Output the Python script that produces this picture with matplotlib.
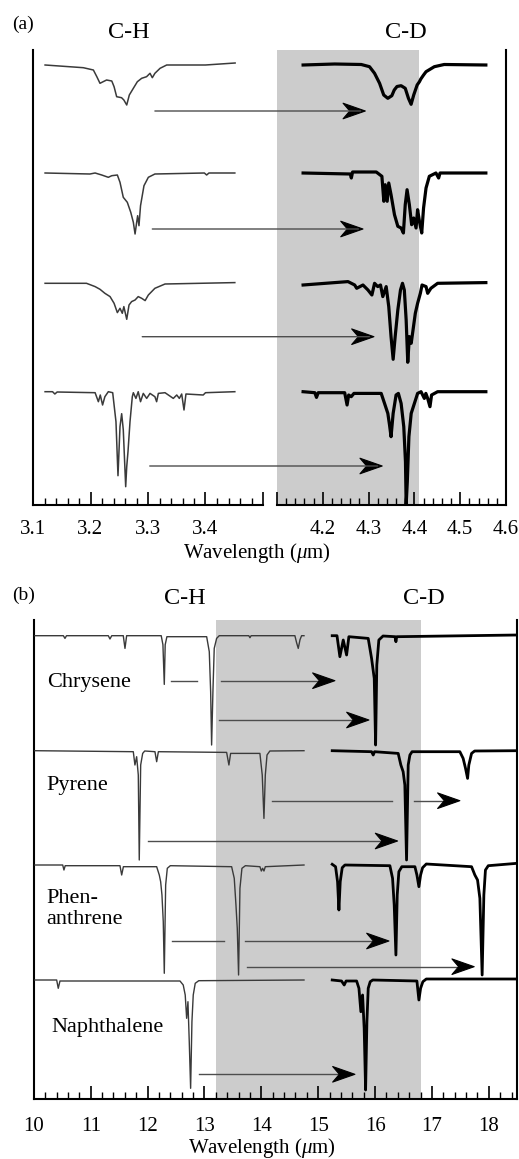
import matplotlib
matplotlib.use("Agg")
import numpy as np
import matplotlib.pyplot as plt
from matplotlib.patches import ConnectionPatch, ArrowStyle
from matplotlib.path import Path
from matplotlib.ticker import FixedLocator, FixedFormatter, MultipleLocator

plt.rcParams['font.family'] = ['Liberation Serif', 'DejaVu Serif']
plt.rcParams['mathtext.fontset'] = 'custom'
plt.rcParams['mathtext.rm'] = 'Liberation Serif'
plt.rcParams['mathtext.it'] = 'Liberation Serif:italic'

# ---------------- data: panel (a) (wavelength um, depth) ----------------
A_CH1 = [(3.121,0),(3.1875,0.027),(3.205,0.05),(3.211,0.117),(3.2165,0.183),(3.222,0.167),
         (3.228,0.15),(3.237,0.16),(3.241,0.217),(3.2455,0.317),(3.254,0.327),(3.258,0.35),
         (3.263,0.40),(3.2675,0.30),(3.2745,0.233),(3.2815,0.167),(3.289,0.133),(3.2975,0.117),
         (3.3035,0.083),(3.3075,0.127),(3.312,0.083),(3.321,0.033),(3.3325,0.0),(3.40,0.0),
         (3.4515,-0.02)]
A_CH2 = [(3.121,0),(3.199,0.01),(3.208,0),(3.2195,0.02),(3.231,0.043),(3.237,0.027),
         (3.2467,0.02),(3.2513,0.093),(3.257,0.243),(3.264,0.293),(3.27,0.393),(3.2745,0.493),
         (3.2775,0.61),(3.2803,0.493),(3.282,0.427),(3.2843,0.527),(3.287,0.327),(3.293,0.127),
         (3.3006,0.043),(3.312,0.01),(3.398,0.0),(3.402,0.02),(3.406,0.0),(3.451,0)]
A_CH3 = [(3.121,0),(3.193,0),(3.208,0.033),(3.2165,0.06),(3.225,0.10),(3.234,0.133),
         (3.241,0.20),(3.2467,0.293),(3.2513,0.25),(3.2553,0.30),(3.258,0.233),(3.263,0.36),
         (3.267,0.217),(3.2715,0.183),(3.2775,0.167),(3.283,0.133),(3.289,0.15),(3.295,0.173),
         (3.3006,0.117),(3.312,0.05),(3.3296,0.007),(3.451,-0.007)]
A_CH4 = [(3.121,0),(3.134,0),(3.138,0.023),(3.142,0.003),(3.208,0.01),(3.2137,0.10),
         (3.217,0.033),(3.221,0.133),(3.225,0.05),(3.231,0),(3.2386,0.01),(3.2443,0.3),
         (3.2478,0.84),(3.2513,0.35),(3.2542,0.22),(3.257,0.38),(3.2612,0.95),(3.263,0.75),
         (3.2652,0.6),(3.2687,0.3),(3.2727,0.05),(3.2745,0.01),(3.279,0.067),(3.283,0),
         (3.287,0.1),(3.2918,0.017),(3.2977,0.067),(3.3035,0.017),(3.312,0.05),(3.315,0.1),
         (3.318,0.017),(3.3296,0.01),(3.344,0.067),(3.35,0.033),(3.3545,0.067),(3.3586,0.023),
         (3.3626,0.183),(3.366,0.023),(3.396,0.033),(3.40,0.01),(3.451,0)]
A_CD1 = [(4.157,0),(4.226,-0.01),(4.284,-0.005),(4.302,0.017),(4.313,0.083),(4.324,0.183),
         (4.333,0.30),(4.342,0.333),(4.3507,0.307),(4.356,0.25),(4.362,0.215),(4.371,0.207),
         (4.38,0.233),(4.387,0.333),(4.3928,0.393),(4.3985,0.30),(4.406,0.20),(4.411,0.167),
         (4.414,0.14),(4.42,0.10),(4.4254,0.067),(4.4435,0.017),(4.465,-0.005),(4.556,0)]
A_CD2 = [(4.157,0),(4.26,0.01),(4.2623,0.05),(4.265,-0.01),(4.3167,-0.01),(4.329,0.033),
         (4.3333,0.283),(4.3363,0.117),(4.3406,0.283),(4.344,0.1),(4.349,0.217),(4.3565,0.417),
         (4.3638,0.533),(4.371,0.55),(4.376,0.60),(4.38,0.317),(4.384,0.167),(4.389,0.317),
         (4.394,0.517),(4.3985,0.45),(4.4036,0.55),(4.407,0.367),(4.411,0.483),(4.416,0.60),
         (4.42,0.35),(4.4254,0.15),(4.4326,0.033),(4.447,0),(4.4529,0.05),(4.456,0),(4.556,0)]
A_CD3 = [(4.157,0.017),(4.226,-0.007),(4.255,-0.017),(4.2696,0.017),(4.274,0.05),(4.2877,0.017),
         (4.2986,0.067),(4.3072,0.117),(4.313,0),(4.32,0.033),(4.326,0.017),(4.331,0.133),
         (4.3384,0.033),(4.344,0.233),(4.349,0.533),(4.3536,0.76),(4.358,0.533),(4.3638,0.267),
         (4.3696,0.067),(4.374,0),(4.378,0.067),(4.382,0.367),(4.3855,0.79),(4.389,0.533),
         (4.393,0.60),(4.397,0.467),(4.402,0.30),(4.407,0.20),(4.413,0.10),(4.4167,0.017),
         (4.4254,0.033),(4.429,0.10),(4.436,0.05),(4.4507,0),(4.556,-0.007)]
A_CD4 = [(4.157,0),(4.1826,0.01),(4.1862,0.057),(4.19,0.01),(4.2478,0.01),(4.253,0.133),
         (4.2565,0.033),(4.262,0.05),(4.268,0.017),(4.3275,0.017),(4.3348,0.117),(4.342,0.217),
         (4.3457,0.333),(4.349,0.45),(4.3536,0.217),(4.36,0.033),(4.365,0.017),(4.371,0.117),
         (4.3768,0.35),(4.3805,0.7),(4.382,1.13),(4.3845,0.9),(4.388,0.45),(4.393,0.217),
         (4.4,0.117),(4.407,0.017),(4.4145,0),(4.4217,0.067),(4.425,0.017),(4.429,0.067),
         (4.434,0.15),(4.4375,0.033),(4.4507,0),(4.556,0)]
A_OFFSETS = [4.40, 3.32, 2.217, 1.133]
A_CH = [A_CH1, A_CH2, A_CH3, A_CH4]
A_CD = [A_CD1, A_CD2, A_CD3, A_CD4]
# arrows (a): (start on C-H scale, end on C-D scale, y)
A_ARROWS = [(3.312, 4.2928, 3.94), (3.3075, 4.2877, 2.76), (3.29, 4.3116, 1.683), (3.303, 4.3297, 0.39)]
A_TICKS_L = [3.1, 3.2, 3.3, 3.4, 3.5]
A_LABELS_L = ['3.1', '3.2', '3.3', '3.4', '']
A_TICKS_R = [4.1, 4.2, 4.3, 4.4, 4.5, 4.6]
A_LABELS_R = ['', '4.2', '4.3', '4.4', '4.5', '4.6']
A_BAND = (4.1, 4.41)

# ---------------- data: panel (b) ----------------
B_CHRY_CH = [(10.02,0),(10.52,0),(10.548,0.027),(10.575,0),(11.31,0),(11.339,0.033),(11.37,0),
             (11.573,0),(11.603,0.127),(11.632,0),(12.24,0),(12.27,0.09),(12.294,0.487),(12.31,0.09),
             (12.34,0.01),(13.039,0.01),(13.085,0.16),(13.109,0.56),(13.126,1.093),(13.149,0.56),
             (13.172,0.127),(13.214,0.027),(13.26,0),(13.78,0),(13.8,0.02),(13.82,0),(14.59,0),
             (14.62,0.07),(14.649,0.127),(14.68,0.04),(14.708,0),(14.75,0)]
B_CHRY_CD = [(15.246,0),(15.33,0),(15.381,0.21),(15.44,0.043),(15.499,0.193),(15.539,0.01),
             (15.879,0.027),(15.938,0.227),(15.985,0.427),(16.009,1.093),(16.03,0.293),(16.066,0.043),
             (16.14,0.003),(16.35,0.01),(16.366,0.06),(16.38,0.01),(18.5,-0.007)]
B_PYR_CH = [(10.02,0),(11.749,0.01),(11.778,0.143),(11.808,0.06),(11.837,0.243),(11.854,1.093),
            (11.879,0.143),(11.914,0.027),(11.95,0.003),(12.13,0.01),(12.16,0.11),(12.19,0.01),
            (13.39,0.017),(13.43,0.143),(13.46,0.027),(13.975,0.027),(14.016,0.243),(14.046,0.677),
            (14.07,0.243),(14.1,0.043),(14.15,0.003),(14.75,0)]
B_PYR_CD = [(15.246,0),(15.938,0.01),(15.967,0.043),(15.99,0.01),(16.406,0.027),(16.453,0.143),
            (16.493,0.21),(16.523,0.343),(16.553,1.093),(16.582,0.143),(16.612,0.043),(16.65,0.01),
            (17.49,0.01),(17.548,0.077),(17.59,0.177),(17.626,0.277),(17.648,0.143),(17.696,0.027),
            (17.75,0.003),(18.5,0)]
B_PHE_CH = [(10.02,0),(10.508,0),(10.53,0.05),(10.552,0.007),(11.515,0.007),(11.545,0.1),
            (11.575,0.017),(11.81,0.017),(12.16,0.017),(12.206,0.1),(12.23,0.167),(12.253,0.3),
            (12.276,0.567),(12.294,1.083),(12.318,0.2),(12.347,0.033),(12.4,0.007),(13.478,0.017),
            (13.524,0.133),(13.554,0.4),(13.577,0.633),(13.6,1.1),(13.624,0.233),(13.659,0.033),
            (13.72,0.007),(13.975,0.017),(14.0,0.06),(14.023,0.033),(14.046,0.06),(14.07,0.017),
            (14.75,0)]
B_PHE_CD = [(15.246,-0.007),(15.305,0.017),(15.34,0.167),(15.364,0.45),(15.387,0.167),(15.422,0.027),
            (15.47,0),(16.26,0.007),(16.307,0.133),(16.336,0.4),(16.366,0.9),(16.389,0.3),(16.418,0.067),
            (16.47,0.017),(16.7,0.017),(16.735,0.1),(16.77,0.217),(16.8,0.1),(16.835,0.027),(16.9,-0.01),
            (17.696,0.017),(17.754,0.1),(17.801,0.15),(17.842,0.333),(17.882,1.1),(17.912,0.3),
            (17.94,0.05),(17.99,0.007),(18.5,-0.017)]
B_NAP_CH = [(10.02,0),(10.402,0),(10.43,0.083),(10.46,0.01),(12.57,0.01),(12.627,0.05),(12.662,0.15),
            (12.687,0.383),(12.71,0.217),(12.733,0.617),(12.757,1.083),(12.78,0.417),(12.803,0.15),
            (12.838,0.033),(12.9,0.007),(14.75,0)]
B_NAP_CD = [(15.246,0),(15.41,0.01),(15.457,0.05),(15.49,0.01),(15.675,0.01),(15.716,0.083),
            (15.75,0.317),(15.78,0.15),(15.808,0.483),(15.833,1.1),(15.856,0.417),(15.879,0.083),
            (15.914,0.017),(15.96,0),(16.735,0.01),(16.77,0.2),(16.8,0.083),(16.84,0.017),(16.9,-0.01),
            (18.5,-0.01)]
B_NAMES = ['Chrysene', 'Pyrene', 'Phen-\nanthrene', 'Naphthalene']
B_OFFSETS = [4.633, 3.483, 2.34, 1.19]
B_CH = [B_CHRY_CH, B_PYR_CH, B_PHE_CH, B_NAP_CH]
B_CD = [B_CHRY_CD, B_PYR_CD, B_PHE_CD, B_NAP_CD]
# arrows (b): (x start, x end, y, with head)
B_ARROWS = [(12.42, 12.968, 4.183, False), (13.285, 15.293, 4.183, True),
            (13.26, 15.891, 3.79, True),
            (14.18, 16.395, 2.983, False), (16.687, 17.49, 2.983, True),
            (12.013, 16.395, 2.58, True),
            (12.434, 13.437, 1.58, False), (13.712, 16.243, 1.58, True),
            (13.753, 17.742, 1.323, True),
            (12.909, 15.645, 0.247, True)]
B_TICKS = [10, 11, 12, 13, 14, 15, 16, 17, 18]
B_BAND = (13.21, 16.81)


# ---------------- concave ("stealth") arrow head ----------------
class StealthHead(ArrowStyle._Base):
    def __init__(self, head_length=1.6, head_width=0.5, notch=0.3):
        self.head_length, self.head_width, self.notch = head_length, head_width, notch
        super().__init__()

    def transmute(self, path, mutation_size, linewidth):
        (x0, y0), (x1, y1) = path.vertices[0], path.vertices[-1]
        d = np.hypot(x1 - x0, y1 - y0) or 1.0
        ux, uy = (x1 - x0) / d, (y1 - y0) / d
        px, py = -uy, ux
        L = self.head_length * mutation_size
        Wd = self.head_width * mutation_size
        bx, by = x1 - ux * L, y1 - uy * L
        nx, ny = x1 - ux * L * (1 - self.notch), y1 - uy * L * (1 - self.notch)
        verts = [(x1, y1), (bx + px * Wd, by + py * Wd), (nx, ny),
                 (bx - px * Wd, by - py * Wd), (x1, y1)]
        codes = [Path.MOVETO, Path.LINETO, Path.LINETO, Path.LINETO, Path.CLOSEPOLY]
        return Path(verts, codes), True


# ---------------- figure ----------------
W, H = 519, 1159
fig = plt.figure(figsize=(W / 100, H / 100), dpi=100)

def px_axes(x0, x1, ytop, ybot):
    return fig.add_axes([x0 / W, 1 - ybot / H, (x1 - x0) / W, (ybot - ytop) / H])

def ftext(x, y, s, **kw):
    fig.text(x / W, 1 - y / H, s, **kw)

BAND_COLOR = '#cccccc'
CH_COLOR = '#3a3a3a'
ARROW_COLOR = '#4d4d4d'
TICK_FS = 15

def style_ticks(ax, minor_step, pad):
    ax.xaxis.set_minor_locator(MultipleLocator(minor_step))
    ax.tick_params(axis='x', which='major', direction='in', length=9.5, width=1.2,
                   labelsize=TICK_FS, pad=pad, top=False)
    ax.tick_params(axis='x', which='minor', direction='in', length=4.8, width=1.0, top=False)
    ax.tick_params(axis='y', which='both', left=False, right=False, labelleft=False)

def head(ax, x1, y, dx):
    ax.annotate('', xy=(x1, y), xytext=(x1 - dx, y),
                arrowprops=dict(arrowstyle=StealthHead(1.6, 0.56, 0.3), mutation_scale=10,
                                facecolor='black', edgecolor='black', lw=0.8,
                                shrinkA=0, shrinkB=0),
                zorder=5, annotation_clip=False)

# ---- panel (a)
axL = px_axes(33, 263, 50, 505)
axR = px_axes(277, 506, 50, 505)
for ax, lim in ((axL, (3.1, 3.5)), (axR, (4.1, 4.6))):
    ax.set_xlim(*lim)
    ax.set_ylim(0, 4.55)
    ax.set_facecolor('none')
    ax.spines['top'].set_visible(False)
    for s in ax.spines.values():
        s.set_linewidth(1.5)
axL.spines['right'].set_visible(False)
axR.spines['left'].set_visible(False)
axL.xaxis.set_major_locator(FixedLocator(A_TICKS_L))
axL.xaxis.set_major_formatter(FixedFormatter(A_LABELS_L))
axR.xaxis.set_major_locator(FixedLocator(A_TICKS_R))
axR.xaxis.set_major_formatter(FixedFormatter(A_LABELS_R))
style_ticks(axL, 0.02, 11)
style_ticks(axR, 0.02, 11)
axR.axvspan(A_BAND[0], A_BAND[1], color=BAND_COLOR, lw=0, zorder=0)

for trace, off in zip(A_CH, A_OFFSETS):
    axL.plot([p[0] for p in trace], [off - p[1] for p in trace], color=CH_COLOR, lw=1.1, zorder=3)
for trace, off in zip(A_CD, A_OFFSETS):
    axR.plot([p[0] for p in trace], [off - p[1] for p in trace], color='black', lw=2.3,
             zorder=3, solid_joinstyle='round')

for x0, x1, y in A_ARROWS:
    con = ConnectionPatch(xyA=(x0, y), coordsA=axL.transData, xyB=(x1 - 0.01, y),
                          coordsB=axR.transData, arrowstyle='-', color=ARROW_COLOR, lw=1.0,
                          shrinkA=0, shrinkB=0, zorder=4)
    fig.add_artist(con)
    head(axR, x1, y, 0.02)

ftext(23, 24, '(a)', fontsize=14, ha='center', va='center')
ftext(129, 32, 'C-H', fontsize=17.5, ha='center', va='center')
ftext(406, 32, 'C-D', fontsize=17.5, ha='center', va='center')
ftext(257, 553, r'Wavelength ($\mu$m)', fontsize=15, ha='center', va='center')

# ---- panel (b)
axB = px_axes(33.8, 517.3, 620, 1099)
axB.set_xlim(10, 18.5)
axB.set_ylim(0, 4.79)
axB.spines['top'].set_visible(False)
for s in axB.spines.values():
    s.set_linewidth(1.5)
axB.xaxis.set_major_locator(FixedLocator(B_TICKS))
axB.xaxis.set_major_formatter(FixedFormatter([str(t) for t in B_TICKS]))
style_ticks(axB, 0.2, 13)
axB.axvspan(B_BAND[0], B_BAND[1], color=BAND_COLOR, lw=0, zorder=0)

for trace, off in zip(B_CH, B_OFFSETS):
    axB.plot([p[0] for p in trace], [off - p[1] for p in trace], color=CH_COLOR, lw=1.0, zorder=3)
for trace, off in zip(B_CD, B_OFFSETS):
    axB.plot([p[0] for p in trace], [off - p[1] for p in trace], color='black', lw=2.0,
             zorder=3, solid_joinstyle='round')

for x0, x1, y, has_head in B_ARROWS:
    axB.plot([x0, x1 - 0.1], [y, y], color=ARROW_COLOR, lw=1.0, zorder=4)
    if has_head:
        head(axB, x1, y, 0.2)

name_pos = [(46.7, 687), (46.7, 790), (46.7, 903), (51.7, 1031.7)]
for name, (x, y) in zip(B_NAMES, name_pos):
    lines = name.split('\n')
    for k, line in enumerate(lines):
        ftext(x, y + 21 * k, line, fontsize=16, ha='left', va='baseline')

ftext(24, 595, '(b)', fontsize=14, ha='center', va='center')
ftext(185, 599, 'C-H', fontsize=17.5, ha='center', va='center')
ftext(424, 599, 'C-D', fontsize=17.5, ha='center', va='center')
ftext(262, 1148, r'Wavelength ($\mu$m)', fontsize=15, ha='center', va='center')

fig.savefig('out.png', dpi=100)
